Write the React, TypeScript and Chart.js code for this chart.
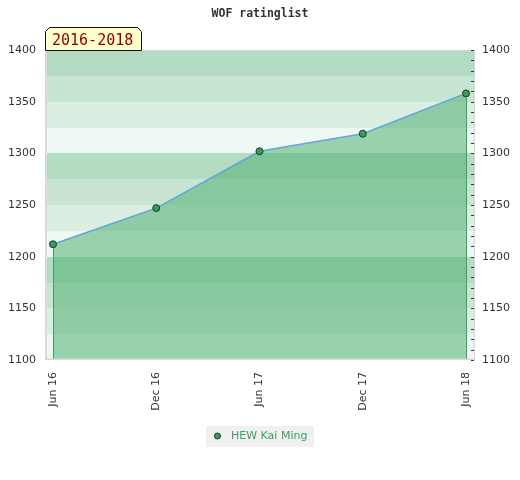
import { useEffect, useRef } from "react";
import { Chart, registerables } from "chart.js";

Chart.register(...registerables);

const periods = ["Jun 16", "Dec 16", "Jun 17", "Dec 17", "Jun 18"];
const ratings = [1212, 1247, 1302, 1319, 1358];
const playerName = "HEW Kai Ming";
const chartTitle = "WOF ratinglist";
const periodLabel = "2016-2018";
const yMin = 1100;
const yMax = 1400;
const yStep = 50;
const yMinorStep = 10;
const bandStep = 25;

const bandColors = ["#b3dcc2", "#c8e5d3", "#dbeee2", "#eff8f2"];

const decorPlugin = {
  id: "decor",
  beforeDraw(chart: any) {
    const { ctx, chartArea: a, scales } = chart;
    const y = scales.y;
    ctx.save();
    ctx.fillStyle = "#ffffff";
    ctx.fillRect(0, 0, chart.width, chart.height);
    let i = 0;
    for (let v = y.max; v > y.min; v -= bandStep, i++) {
      const top = Math.round(y.getPixelForValue(v));
      const bot = Math.round(y.getPixelForValue(v - bandStep));
      ctx.fillStyle = bandColors[i % bandColors.length];
      ctx.fillRect(a.left, top, a.right - a.left, bot - top);
    }
    ctx.restore();
  },
  afterDatasetsDraw(chart: any) {
    const { ctx, chartArea: a } = chart;
    const meta = chart.getDatasetMeta(0);
    const pts = meta.data;
    if (!pts.length) return;
    ctx.save();
    ctx.strokeStyle = "#35a55b";
    ctx.lineWidth = 1;
    [pts[0], pts[pts.length - 1]].forEach((p: any) => {
      const x = Math.round(p.x) + 0.5;
      ctx.beginPath();
      ctx.moveTo(x, p.y + 4);
      ctx.lineTo(x, a.bottom);
      ctx.stroke();
    });
    ctx.restore();
  },
  afterDraw(chart: any) {
    const { ctx, chartArea: a, scales } = chart;
    ctx.save();
    // plot border
    ctx.strokeStyle = "#d6d6d6";
    ctx.lineWidth = 1;
    ctx.strokeRect(a.left + 0.5, a.top + 0.5, a.right - a.left - 1, a.bottom - a.top - 1);
    ctx.beginPath();
    ctx.moveTo(a.left + 1.5, a.top);
    ctx.lineTo(a.left + 1.5, a.bottom - 1);
    ctx.lineTo(a.right, a.bottom - 1);
    ctx.strokeStyle = "#dcdcdc";
    ctx.stroke();

    // minor ticks on the right axis
    const y2 = scales.y2;
    ctx.strokeStyle = "#333333";
    ctx.lineWidth = 1;
    y2.ticks.forEach((t: any) => {
      const py = Math.round(y2.getPixelForValue(t.value)) + 0.5;
      ctx.beginPath();
      ctx.moveTo(a.right - 4, py);
      ctx.lineTo(a.right - 1, py);
      ctx.stroke();
    });

    // period label box
    ctx.font = "15px 'DejaVu Sans Mono'";
    const tw = ctx.measureText(periodLabel).width;
    const left = a.left + 0.5;
    const right = Math.round(a.left + tw + 15) + 0.5;
    const top = a.top - 22.5;
    const bottom = a.top + 0.5;
    const c = 4;
    ctx.beginPath();
    ctx.moveTo(left, bottom);
    ctx.lineTo(left, top + c);
    ctx.lineTo(left + c, top);
    ctx.lineTo(right - c, top);
    ctx.lineTo(right, top + c);
    ctx.lineTo(right, bottom);
    ctx.closePath();
    ctx.fillStyle = "#ffffcc";
    ctx.fill();
    ctx.strokeStyle = "#111111";
    ctx.stroke();
    ctx.fillStyle = "#8b0000";
    ctx.textBaseline = "alphabetic";
    ctx.textAlign = "left";
    ctx.fillText(periodLabel, a.left + 7, a.top - 5);

    // legend
    const ds = chart.data.datasets[0];
    ctx.font = "11px 'DejaVu Sans'";
    const lw = ctx.measureText(ds.label).width;
    const boxW = Math.round(lw + 32);
    const boxL = Math.round((chart.width - boxW) / 2);
    const boxT = 426;
    ctx.fillStyle = "#f0f0f0";
    ctx.fillRect(boxL, boxT, boxW, 21);
    ctx.beginPath();
    ctx.arc(boxL + 11.5, boxT + 10, 3, 0, Math.PI * 2);
    ctx.fillStyle = ds.pointBackgroundColor;
    ctx.fill();
    ctx.strokeStyle = ds.pointBorderColor;
    ctx.lineWidth = 1;
    ctx.stroke();
    ctx.fillStyle = "#3b9e5f";
    ctx.textBaseline = "middle";
    ctx.fillText(ds.label, boxL + 25, boxT + 10.5);
    ctx.restore();
  },
};

export default function App() {
  const ref = useRef<HTMLCanvasElement | null>(null);

  useEffect(() => {
    document.body.style.margin = "0";
    const canvas = ref.current;
    if (!canvas) return;
    const tickFont = { family: "'DejaVu Sans'", size: 11 };
    const chart = new Chart(canvas, {
      type: "line",
      data: {
        datasets: [
          {
            label: playerName,
            data: ratings.map((r, i) => ({ x: i, y: r })),
            borderColor: "#62a3dc",
            borderWidth: 1.5,
            backgroundColor: "rgba(80,175,115,0.54)",
            fill: "start",
            tension: 0,
            pointRadius: 3.5,
            pointBorderWidth: 1,
            pointBackgroundColor: "#3a9b5c",
            pointBorderColor: "#1b3b26",
          },
        ],
      },
      options: {
        responsive: false,
        animation: false,
        devicePixelRatio: 1,
        layout: { padding: { top: 0, left: 0, right: 0, bottom: 60 } },
        plugins: {
          legend: { display: false },
          tooltip: { enabled: false },
          title: {
            display: true,
            text: chartTitle,
            color: "#333333",
            font: { family: "'DejaVu Sans Mono'", size: 11.5, weight: "bold" },
            padding: { top: 7, bottom: 29.2 },
          },
        },
        scales: {
          x: {
            type: "linear",
            min: -0.0775,
            max: 4.087,
            afterBuildTicks: (s: any) => {
              s.ticks = periods.map((_, i) => ({ value: i }));
            },
            afterFit: (s: any) => {
              s.height = 60;
            },
            grid: { display: false, drawTicks: false },
            border: { display: false },
            ticks: {
              autoSkip: false,
              maxRotation: 90,
              minRotation: 90,
              padding: 12,
              color: "#333333",
              font: tickFont,
              callback: (v: any) => periods[Math.round(Number(v))] ?? "",
            },
          },
          y: {
            position: "left",
            min: yMin,
            max: yMax,
            afterFit: (s: any) => {
              s.width = 45;
            },
            grid: { display: false, drawTicks: false },
            border: { display: false },
            ticks: {
              stepSize: yStep,
              padding: 9,
              color: "#333333",
              font: tickFont,
              callback: (v: any) => String(v),
            },
          },
          y2: {
            position: "right",
            min: yMin,
            max: yMax,
            afterFit: (s: any) => {
              s.width = 45;
            },
            grid: { display: false, drawTicks: false },
            border: { display: false },
            ticks: {
              stepSize: yMinorStep,
              autoSkip: false,
              padding: 7,
              color: "#333333",
              font: tickFont,
              callback: (v: any) => (Number(v) % yStep === 0 ? String(v) : ""),
            },
          },
        },
      },
      plugins: [decorPlugin],
    });
    return () => chart.destroy();
  }, []);

  return (
    <div style={{ width: 520, height: 480 }}>
      <canvas ref={ref} width={520} height={480} style={{ display: "block" }} />
    </div>
  );
}
